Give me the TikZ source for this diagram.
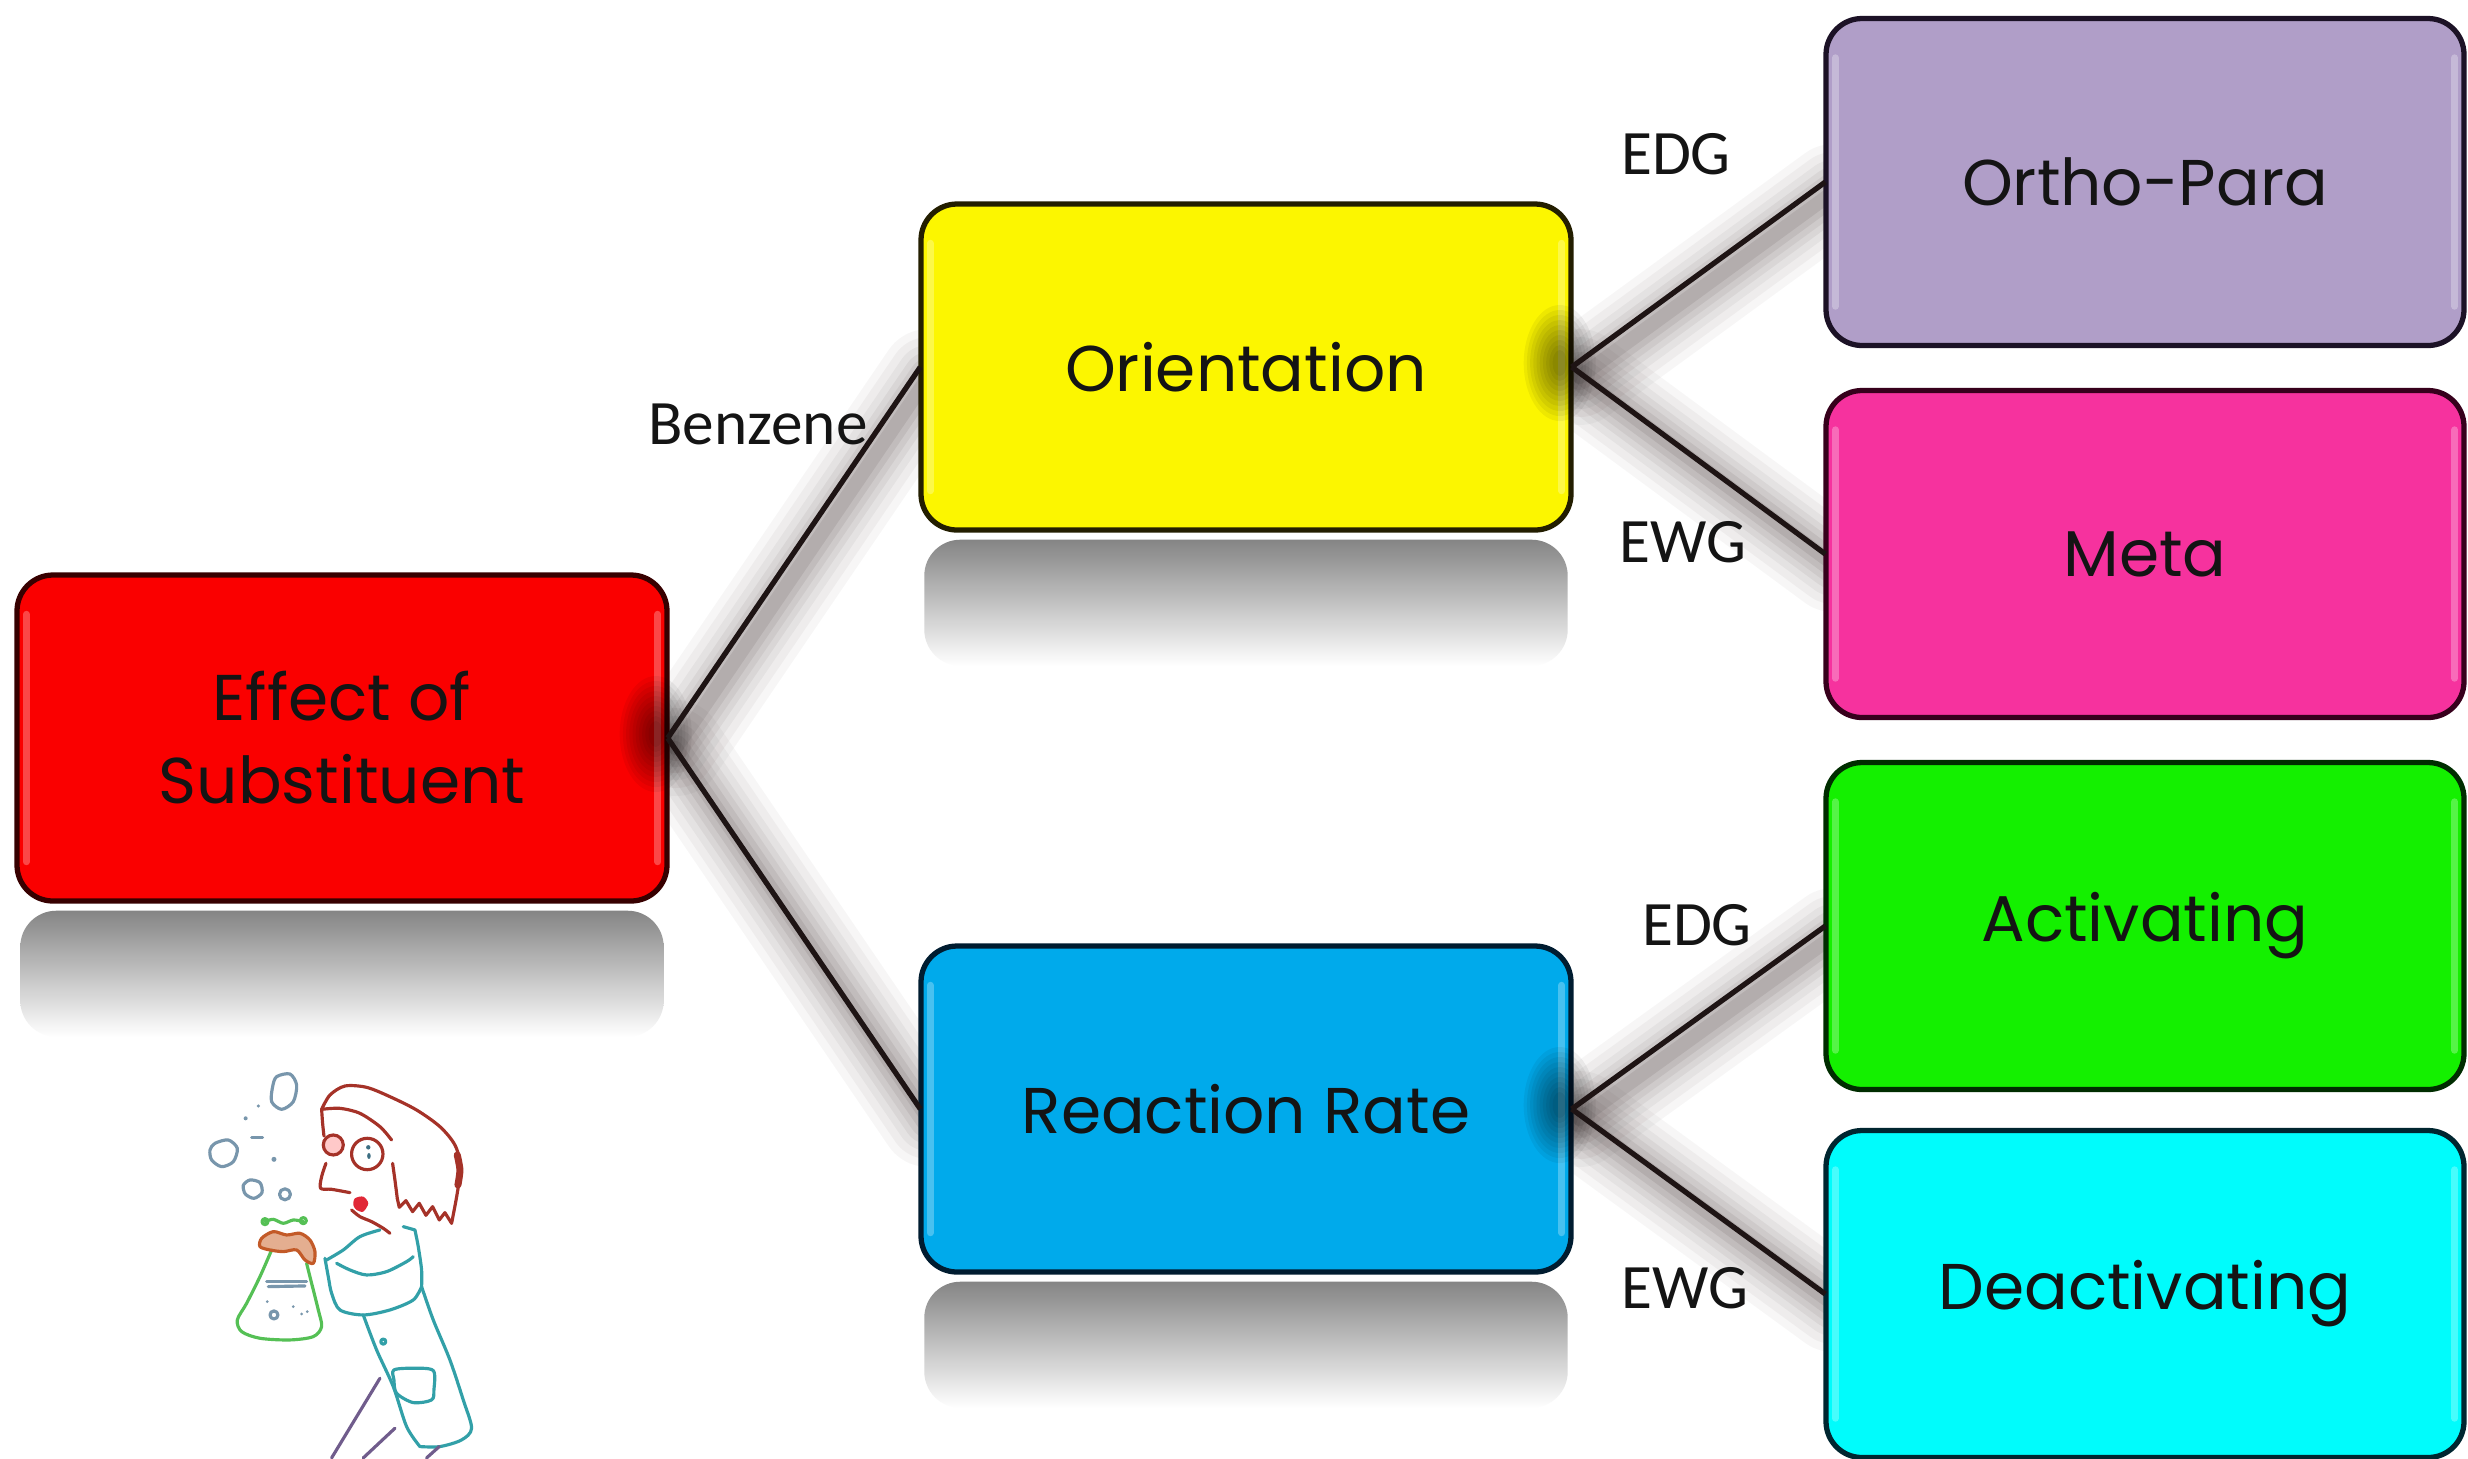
\documentclass[tikz,border=0pt]{standalone}
\usepackage{fontspec}
\setmainfont{Carlito}
\newfontfamily\boxfont{Poppins}
\definecolor{glowc}{RGB}{80,66,66}
\definecolor{linkc}{RGB}{30,20,20}
\definecolor{bubc}{RGB}{120,150,172}
\definecolor{hairc}{RGB}{165,50,40}
\definecolor{coatc}{RGB}{50,160,168}
\definecolor{flaskc}{RGB}{85,192,85}
\definecolor{legc}{RGB}{112,92,140}
\definecolor{eyec}{RGB}{60,110,130}
\definecolor{mouthc}{RGB}{225,40,55}
\definecolor{handc}{RGB}{195,90,40}
\definecolor{handf}{RGB}{210,120,70}
\definecolor{cRed}{RGB}{250,0,0}
\definecolor{oRed}{RGB}{55,0,0}
\definecolor{cYel}{RGB}{252,246,0}
\definecolor{oYel}{RGB}{35,30,0}
\definecolor{cBlu}{RGB}{0,170,235}
\definecolor{oBlu}{RGB}{0,28,48}
\definecolor{cPur}{RGB}{176,158,200}
\definecolor{oPur}{RGB}{28,18,38}
\definecolor{cPnk}{RGB}{246,50,158}
\definecolor{oPnk}{RGB}{55,0,28}
\definecolor{cGrn}{RGB}{20,240,0}
\definecolor{oGrn}{RGB}{0,45,0}
\definecolor{cCya}{RGB}{0,252,252}
\definecolor{oCya}{RGB}{0,38,48}
\begin{document}
\begin{tikzpicture}[x=0.1mm,y=-0.1mm,
  sbox/.style 2 args={draw=#2, fill=#1, line width=1.5pt, rounded corners=3.6mm,
    inner sep=0pt, align=center, text=black!92,
    font=\boxfont\fontsize{18.4}{23.6}\selectfont},
  parentbox/.style={minimum width=65mm, minimum height=32.6mm},
  leafbox/.style={minimum width=63.8mm, minimum height=32.7mm},
  ghost/.style={draw=none, fill=none, text opacity=0, inner sep=0pt, align=center,
    font=\boxfont\fontsize{18.4}{23.6}\selectfont},
  lbl/.style={font=\fontsize{18}{20}\selectfont, text=black!92, inner sep=0pt},
  link/.style={draw=linkc, line width=1.5pt},
  bub/.style={draw=bubc},
  hair/.style={draw=hairc},
  coat/.style={draw=coatc},
  flask/.style={draw=flaskc},
  leg/.style={draw=legc},
]
\useasboundingbox (0,0) rectangle (2468,1458);
\fill[white] (0,0) rectangle (2468,1458);

% ---- box frames (anchors only; the coloured boxes are drawn later) ----
\path
  node[ghost, parentbox] (eff) at (342,738) {Effect of\\Substituent}
  node[ghost, parentbox] (ori) at (1246,367) {Orientation}
  node[ghost, parentbox] (rr) at (1246,1109) {Reaction Rate}
  node[ghost, leafbox] (op) at (2145,182) {Ortho-Para}
  node[ghost, leafbox] (meta) at (2145,554) {Meta}
  node[ghost, leafbox] (act) at (2145,926) {Activating}
  node[ghost, leafbox] (deact) at (2145,1294) {Deactivating};

% ---- mirrored reflections under the left-hand boxes ----
\foreach \n in {eff,ori,rr}{
  \shade[top color=black!48, bottom color=white, rounded corners=3.6mm]
    ([shift={(4,9)}]\n.south west) rectangle ([shift={(-4,135)}]\n.south east);
}

% ---- soft shadows of the connectors ----
\foreach \a/\b in {eff/ori,eff/rr,ori/op,ori/meta,rr/act,rr/deact}{
  \foreach \w/\o in {96/0.045,80/0.05,64/0.06,50/0.07,38/0.08,26/0.10,14/0.12}{
    \draw[glowc, opacity=\o, line width=\w*0.1mm, line cap=round]
      ([shift={(8,10)}]\a.east) -- ([shift={(8,10)}]\b.west);
  }
}

% ---- boxes ----
\node[sbox={cRed}{oRed}, parentbox] (effbox) at (eff) {Effect of\\Substituent};
\node[sbox={cYel}{oYel}, parentbox] (oribox) at (ori) {Orientation};
\node[sbox={cBlu}{oBlu}, parentbox] (rrbox) at (rr) {Reaction Rate};
\node[sbox={cPur}{oPur}, leafbox] (opbox) at (op) {Ortho-Para};
\node[sbox={cPnk}{oPnk}, leafbox] (metabox) at (meta) {Meta};
\node[sbox={cGrn}{oGrn}, leafbox] (actbox) at (act) {Activating};
\node[sbox={cCya}{oCya}, leafbox] (deactbox) at (deact) {Deactivating};

% inner bevel highlight along the side edges
\foreach \n in {eff,ori,rr,op,meta,act,deact}{
  \draw[white, opacity=0.28, line width=2pt, line cap=round]
    ([shift={(10,40)}]\n.north west) -- ([shift={(10,-40)}]\n.south west);
  \draw[white, opacity=0.28, line width=2pt, line cap=round]
    ([shift={(-10,40)}]\n.north east) -- ([shift={(-10,-40)}]\n.south east);
}

% dark smudge where the connectors leave a parent box
\foreach \n in {eff,ori,rr}{
  \foreach \i in {1,...,10}{
    \fill[black, opacity=0.055] ([shift={(-12,-4)}]\n.east)
      ellipse ({(4+3.2*\i)*0.1mm} and {(8+5*\i)*0.1mm});
  }
}

% ---- connectors ----
\draw[link] (eff.east) -- (ori.west);
\draw[link] (eff.east) -- (rr.west);
\draw[link] (ori.east) -- (op.west);
\draw[link] (ori.east) -- (meta.west);
\draw[link] (rr.east) -- (act.west);
\draw[link] (rr.east) -- (deact.west);

% ---- connector labels ----
\node[lbl] (lbenz) at (758,424) {Benzene};
\node[lbl] (ledg1) at (1676,154) {EDG};
\node[lbl] (lewg1) at (1683,542) {EWG};
\node[lbl] (ledg2) at (1697,925) {EDG};
\node[lbl] (lewg2) at (1685,1288) {EWG};

% ---- little chemist with a bubbling flask ----
\begin{scope}[shift={(150,1030)}, x=0.03333mm, y=-0.03333mm,
    line width=0.9pt, line cap=round, line join=round]
  % bubbles
  \draw[bub] plot[smooth cycle] coordinates {(380,140)(420,132)(440,165)(430,215)(395,238)(365,215)(368,170)};
  \draw[bub] plot[smooth cycle] coordinates {(195,340)(235,330)(262,355)(250,395)(215,410)(185,390)(180,360)};
  \draw[bub] plot[smooth cycle] coordinates {(300,450)(330,458)(336,488)(312,505)(286,492)(280,466)};
  \draw[bub] (405,493) circle (0.55mm);
  \fill[bubc] (325,228) circle (0.17mm);
  \fill[bubc] (287,265) circle (0.2mm);
  \fill[bubc] (372,388) circle (0.25mm);
  \draw[bub] (305,322) -- (338,322);
  % hair
  \draw[hair] plot[smooth] coordinates {(515,238)(540,195)(585,168)(650,172)(720,200)(800,240)(870,290)(915,345)(932,410)(922,490)(905,580)};
  \draw[hair] (905,580)--(885,548)--(868,570)--(848,530)--(828,556)--(808,520)--(788,545)--(768,512)--(748,532)--(742,505);
  \draw[hair] plot[smooth] coordinates {(742,505)(735,450)(728,400)};
  \draw[hair] plot[smooth] coordinates {(515,238)(570,235)(630,250)(690,290)(725,330)};
  \draw[hair, line width=2pt] plot[smooth] coordinates {(922,375)(930,420)(924,465)};
  % face
  \draw[hair] plot[smooth] coordinates {(515,238)(518,280)(522,318)};
  \fill[red!60, opacity=0.35] (550,345) circle (1mm);
  \draw[hair] (550,345) circle (1mm);
  \draw[hair] (652,372) circle (1.57mm);
  \fill[eyec] (655,352) circle (0.22mm);
  \fill[eyec] (657,378) ellipse (0.18mm and 0.3mm);
  \draw[hair] plot[smooth] coordinates {(528,400)(515,440)(512,475)(545,478)(600,488)};
  \fill[mouthc] plot[smooth cycle] coordinates {(615,505)(640,500)(655,520)(640,545)(620,540)(610,525)};
  \draw[hair] plot[smooth] coordinates {(605,540)(630,560)(665,575)(700,595)(720,610)};
  % flask
  \draw[flask] plot[smooth] coordinates {(345,575)(370,568)(400,580)(430,570)(460,575)};
  \draw[flask] (345,575) circle (0.3mm);
  \draw[flask] (460,572) circle (0.3mm);
  \draw[flask] plot[smooth] coordinates {(365,660)(330,740)(290,820)(262,870)(275,905)(330,925)(420,930)(490,920)(515,890)(505,840)(485,760)(470,700)};
  \draw[bub] (350,755) -- (470,755);
  \draw[bub] (355,770) -- (465,768);
  \draw[bub] (372,855) circle (0.4mm);
  \fill[bubc] (430,830) circle (0.15mm);
  \fill[bubc] (455,852) circle (0.15mm);
  \fill[bubc] (352,815) circle (0.15mm);
  \fill[bubc] (472,845) circle (0.15mm);
  % hand
  \draw[draw=handc, fill=handf, fill opacity=0.6]
    plot[smooth cycle] coordinates {(335,625)(370,605)(410,615)(450,610)(480,630)(495,665)(490,700)(465,690)(440,660)(400,665)(360,660)(330,650)};
  % lab coat
  \draw[coat] plot[smooth] coordinates {(530,690)(580,660)(630,620)(690,600)};
  \draw[coat] (760,590) -- (795,600);
  \draw[coat] plot[smooth] coordinates {(525,685)(535,740)(545,790)(570,840)(640,855)(720,840)(790,810)(815,770)};
  \draw[coat] plot[smooth] coordinates {(560,700)(600,720)(650,735)(710,725)(770,695)(790,680)};
  \draw[coat] plot[smooth] coordinates {(795,600)(805,650)(815,720)(815,770)};
  \draw[coat] plot[smooth] coordinates {(640,855)(680,960)(730,1070)(770,1190)(810,1250)};
  \draw[coat] plot[smooth] coordinates {(815,770)(850,870)(900,990)(940,1110)(965,1195)(935,1230)(870,1250)(810,1250)};
  \draw[coat] plot[smooth cycle] coordinates {(732,1020)(790,1015)(850,1022)(852,1080)(845,1110)(790,1118)(740,1090)(732,1050)};
  \draw[coat] (700,935) circle (0.25mm);
  % legs
  \draw[leg] (545,1284) -- (690,1045);
  \draw[leg] (640,1284) -- (735,1195);
  \draw[leg] (830,1284) -- (868,1250);
\end{scope}
\end{tikzpicture}
\end{document}
